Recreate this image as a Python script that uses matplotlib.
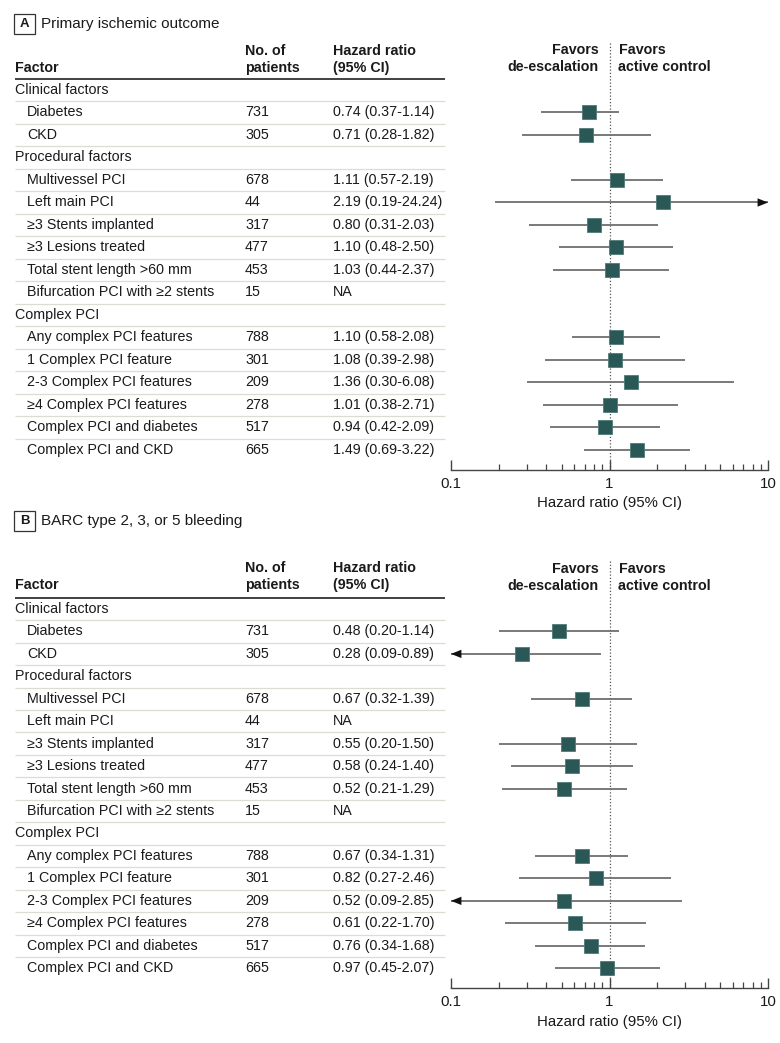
import numpy as np
import matplotlib
matplotlib.use("Agg")
import matplotlib.pyplot as plt
import matplotlib.transforms as mtransforms

plt.rcParams['font.family'] = ['Liberation Sans Narrow', 'Liberation Sans', 'DejaVu Sans']

# rows shared by both panels (None in patients -> group header)
labels = ["Clinical factors", "Diabetes", "CKD",
          "Procedural factors", "Multivessel PCI", "Left main PCI",
          "\u22653 Stents implanted", "\u22653 Lesions treated",
          "Total stent length >60 mm", "Bifurcation PCI with \u22652 stents",
          "Complex PCI", "Any complex PCI features", "1 Complex PCI feature",
          "2-3 Complex PCI features", "\u22654 Complex PCI features",
          "Complex PCI and diabetes", "Complex PCI and CKD"]
patients = [None, 731, 305, None, 678, 44, 317, 477, 453, 15,
            None, 788, 301, 209, 278, 517, 665]

# panel A: primary ischemic outcome
hr_a = [None, 0.74, 0.71, None, 1.11, 2.19, 0.80, 1.10, 1.03, None,
        None, 1.10, 1.08, 1.36, 1.01, 0.94, 1.49]
lo_a = [None, 0.37, 0.28, None, 0.57, 0.19, 0.31, 0.48, 0.44, None,
        None, 0.58, 0.39, 0.30, 0.38, 0.42, 0.69]
hi_a = [None, 1.14, 1.82, None, 2.19, 24.24, 2.03, 2.50, 2.37, None,
        None, 2.08, 2.98, 6.08, 2.71, 2.09, 3.22]

# panel B: BARC type 2, 3, or 5 bleeding
hr_b = [None, 0.48, 0.28, None, 0.67, None, 0.55, 0.58, 0.52, None,
        None, 0.67, 0.82, 0.52, 0.61, 0.76, 0.97]
lo_b = [None, 0.20, 0.09, None, 0.32, None, 0.20, 0.24, 0.21, None,
        None, 0.34, 0.27, 0.09, 0.22, 0.34, 0.45]
hi_b = [None, 1.14, 0.89, None, 1.39, None, 1.50, 1.40, 1.29, None,
        None, 1.31, 2.46, 2.85, 1.70, 1.68, 2.07]

W, H = 780, 1043
MARK = "#2a5856"
LINE = "#6e6e6e"
TXT = "#1a1a1a"
FS = 10.3


def fx(px):
    return px / W


def fy(py):
    return 1 - py / H


def panel(fig, letter, title, hr, lo, hi, title_y, first_row_y, row_h, head_y):
    ax_top, ax_bot = first_row_y - 48, first_row_y + 16 * row_h + 20
    ax = fig.add_axes([fx(451), fy(ax_bot), (768 - 451) / W, (ax_bot - ax_top) / H])
    ax.set_xscale("log")
    ax.set_xlim(0.1, 10)
    ax.set_ylim((ax_bot - first_row_y) / row_h, (ax_top - first_row_y) / row_h)
    tr = mtransforms.blended_transform_factory(fig.transFigure, ax.transData)

    def ry(py):
        return (py - first_row_y) / row_h

    # title with boxed letter
    fig.text(fx(24.5), fy(title_y), letter, fontsize=9.5, fontweight="bold",
             ha="center", va="center", color=TXT, family="Liberation Sans")
    fig.add_artist(plt.Rectangle((fx(14), fy(title_y + 9.5)), 21 / W, 19 / H,
                                 transform=fig.transFigure, fill=False,
                                 edgecolor="#333333", lw=0.9))
    fig.text(fx(41), fy(title_y), title, fontsize=11, ha="left", va="center", color=TXT)

    # header
    hw = "bold"
    ax.text(fx(15), ry(head_y + 17), "Factor", transform=tr, fontsize=FS, fontweight=hw,
            ha="left", va="center", color=TXT)
    ax.text(fx(245), ry(head_y), "No. of", transform=tr, fontsize=FS, fontweight=hw,
            ha="left", va="center", color=TXT)
    ax.text(fx(245), ry(head_y + 17), "patients", transform=tr, fontsize=FS, fontweight=hw,
            ha="left", va="center", color=TXT)
    ax.text(fx(333), ry(head_y), "Hazard ratio", transform=tr, fontsize=FS, fontweight=hw,
            ha="left", va="center", color=TXT)
    ax.text(fx(333), ry(head_y + 17), "(95% CI)", transform=tr, fontsize=FS, fontweight=hw,
            ha="left", va="center", color=TXT)
    ax.plot([fx(15), fx(445)], [-0.5, -0.5], transform=tr, clip_on=False,
            color="#333333", lw=1.3, solid_capstyle="butt")

    for i, lab in enumerate(labels):
        if patients[i] is None:
            ax.text(fx(15), i, lab, transform=tr, fontsize=FS, ha="left", va="center", color=TXT)
        else:
            ax.text(fx(27), i, lab, transform=tr, fontsize=FS, ha="left", va="center", color=TXT)
            ax.text(fx(245), i, str(patients[i]), transform=tr, fontsize=FS,
                    ha="left", va="center", color=TXT)
            if hr[i] is None:
                s = "NA"
            else:
                s = "%.2f (%.2f-%.2f)" % (hr[i], lo[i], hi[i])
            ax.text(fx(333), i, s, transform=tr, fontsize=FS, ha="left", va="center", color=TXT)
        if i < len(labels) - 1:
            ax.plot([fx(15), fx(445)], [i + 0.5, i + 0.5], transform=tr, clip_on=False,
                    color="#dcdcd2", lw=0.9, solid_capstyle="butt")

    # favors labels either side of the null line
    left_off = mtransforms.ScaledTranslation(-11 / 100, 0, fig.dpi_scale_trans)
    right_off = mtransforms.ScaledTranslation(9 / 100, 0, fig.dpi_scale_trans)
    for txt, dy in [("Favors", -40), ("de-escalation", -23)]:
        ax.text(1, ry(first_row_y + dy), txt, transform=ax.transData + left_off,
                fontsize=FS, fontweight=hw, ha="right", va="center", color=TXT)
    for txt, dy in [("Favors", -40), ("active control", -23)]:
        ax.text(1, ry(first_row_y + dy), txt, transform=ax.transData + right_off,
                fontsize=FS, fontweight=hw, ha="left", va="center", color=TXT)

    ax.axvline(1, color="#555555", lw=0.9, ls=(0, (1, 1.6)), zorder=1)

    xmin, xmax = ax.get_xlim()
    arrow = dict(arrowstyle="-|>,head_length=0.75,head_width=0.3",
                 color="#111111", lw=0, shrinkA=0, shrinkB=0)
    for i in range(len(labels)):
        if hr[i] is None:
            continue
        l, h = max(lo[i], xmin), min(hi[i], xmax)
        ax.plot([l, h], [i, i], color=LINE, lw=1.3, zorder=2, solid_capstyle="butt")
        if hi[i] > xmax:
            ax.annotate("", xy=(xmax, i), xytext=(hr[i], i), arrowprops=arrow,
                        annotation_clip=False)
        if lo[i] < xmin:
            ax.annotate("", xy=(xmin, i), xytext=(hr[i], i), arrowprops=arrow,
                        annotation_clip=False)
        ax.plot(hr[i], i, marker="s", ms=9.5, color=MARK, mec="#4f7a77", mew=0.6, zorder=3)

    for sp in ["top", "right", "left"]:
        ax.spines[sp].set_visible(False)
    ax.spines["bottom"].set_color("#444444")
    ax.spines["bottom"].set_linewidth(1.0)
    ax.set_yticks([])
    ax.set_xticks([0.1, 1, 10])
    ax.set_xticklabels(["0.1", "1", "10"])
    ax.tick_params(axis="x", which="major", direction="in", length=7, width=1.0,
                   color="#444444", labelsize=FS + 0.5, labelcolor=TXT, pad=5)
    ax.tick_params(axis="x", which="minor", direction="in", length=4, width=0.9,
                   color="#444444")
    ax.xaxis.set_minor_formatter(matplotlib.ticker.NullFormatter())
    ax.set_xlabel("Hazard ratio (95% CI)", fontsize=FS + 0.5, color=TXT, labelpad=4)
    ax.patch.set_alpha(0)
    return ax


fig = plt.figure(figsize=(W / 100, H / 100), dpi=100)
panel(fig, "A", "Primary ischemic outcome", hr_a, lo_a, hi_a,
      title_y=24, first_row_y=90, row_h=22.5, head_y=51)
panel(fig, "B", "BARC type 2, 3, or 5 bleeding", hr_b, lo_b, hi_b,
      title_y=521, first_row_y=609, row_h=22.45, head_y=568)
fig.savefig("out.png", dpi=100)
